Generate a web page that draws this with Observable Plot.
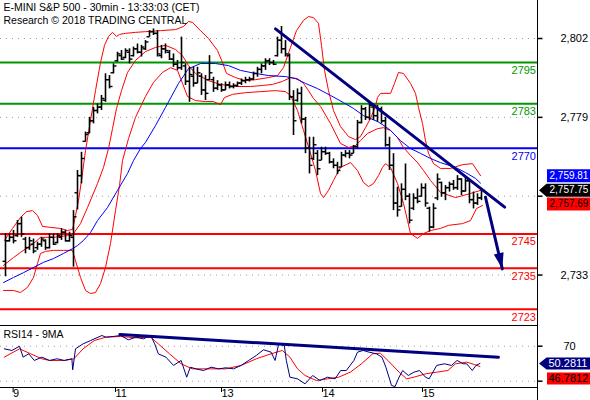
<!DOCTYPE html>
<html><head><meta charset="utf-8">
<script src="https://cdn.jsdelivr.net/npm/d3@7"></script>
<script src="https://cdn.jsdelivr.net/npm/@observablehq/plot@0.6"></script>
<style>
body{margin:0;background:#fff;}
#wrap{position:relative;width:590px;height:400px;overflow:hidden;background:#fff;font-family:'Liberation Sans',Arial,sans-serif;}
#wrap svg{display:block;}
#vline{position:absolute;left:537px;top:0;width:1px;height:400px;background:#000;z-index:5;}
</style></head><body><div id="wrap"></div>
<script>
// ---------- data ----------
const titleText = "E-MINI S&P 500 - 30min - 13:33:03 (CET)";
const sourceText = "Research \u00A9 2018 TRADING CENTRAL";
const rsiTitle = "RSI14 - 9MA";

const priceTicks = [2733, 2756, 2779, 2802];
const priceTickLabels = ["2,733", "", "2,779", "2,802"];   // 2,756 sits under the value tags
const rsiTicks = [30, 70];
const rsiTickLabels = ["", "70"];                            // 30 sits under the value tags
const dayTicks = [1.4, 27, 53.5, 78.75, 103.75];
const dayLabels = ["9", "11", "13", "14", "15"];

const levels = [2795, 2783, 2770, 2745, 2735, 2723];
const levelKinds = ["resistance", "resistance", "pivot", "support", "support", "support"];

const highs = [2745.0,2745.0,2746.0,2748.9,2749.9,2744.0,2744.0,2743.5,2742.6,2744.0,
2743.3,2745.0,2745.0,2745.0,2746.5,2746.0,2745.5,2751.8,2763.5,2768.8,
2774.7,2779.0,2781.9,2782.9,2785.4,2791.7,2791.2,2794.6,2798.0,2798.5,
2799.0,2799.0,2799.5,2800.4,2800.0,2801.4,2804.3,2804.8,2804.3,2800.0,
2800.4,2798.5,2797.5,2795.6,2802.4,2794.6,2793.6,2793.6,2793.6,2791.7,
2791.2,2797.0,2790.7,2789.7,2788.8,2789.3,2789.3,2788.8,2789.3,2790.2,
2790.7,2790.7,2792.2,2793.6,2794.6,2796.1,2796.1,2795.6,2802.4,2805.5,
2801.4,2797.5,2786.8,2787.3,2787.8,2779.0,2773.2,2773.2,2769.3,2770.3,
2770.3,2768.8,2766.9,2765.9,2768.8,2769.3,2769.3,2770.8,2778.1,2782.4,
2781.9,2783.4,2782.4,2782.5,2782.0,2779.0,2773.2,2768.4,2758.6,2759.6,
2765.4,2756.7,2756.7,2758.1,2759.6,2759.6,2752.8,2753.8,2762.5,2760.1,
2759.1,2760.1,2760.6,2762.0,2761.1,2761.5,2760.6,2757.2,2756.7,2758.1];
const lows = [2732.5,2742.6,2742.1,2744.0,2744.0,2739.2,2740.2,2739.2,2740.2,2741.1,
2740.2,2740.6,2741.6,2742.1,2743.1,2742.6,2742.6,2735.3,2752.0,2759.6,
2771.8,2774.2,2777.1,2780.0,2781.0,2783.4,2787.3,2791.7,2795.1,2795.6,
2796.1,2794.6,2796.6,2797.5,2796.6,2798.5,2802.4,2802.9,2796.6,2796.1,
2797.5,2795.6,2793.6,2792.7,2792.7,2788.3,2783.4,2787.8,2788.8,2785.4,
2783.9,2789.7,2786.3,2786.8,2786.3,2786.8,2787.3,2787.3,2787.8,2788.3,
2788.8,2789.3,2789.7,2790.7,2791.7,2792.7,2794.1,2794.1,2796.6,2797.5,
2796.6,2783.9,2773.7,2783.4,2777.1,2768.4,2762.5,2766.4,2762.0,2766.4,
2767.9,2765.4,2764.0,2762.3,2764.4,2767.2,2766.9,2768.4,2769.8,2777.1,
2778.1,2778.1,2778.1,2777.6,2777.1,2770.3,2763.5,2751.8,2749.9,2752.8,
2754.7,2747.9,2751.8,2753.8,2755.7,2752.8,2745.5,2746.5,2754.7,2755.7,
2754.7,2757.2,2757.7,2757.7,2756.2,2757.2,2753.8,2752.3,2753.3,2754.7];
const opens = [2737,2743,2744,2744.5,2748,2743.5,2741,2742,2741,2742,
2743,2741,2744,2742.5,2744,2745.5,2743,2744,2757,2762,
2772,2774.5,2778,2781,2782,2784,2790,2792,2795.5,2797,
2796.5,2798,2797,2799,2798,2799,2802.5,2804,2803.5,2797,
2799,2798,2796,2794.5,2793.5,2794,2789.5,2791,2789,2791,
2787,2790,2790,2787.5,2788.5,2787,2788.5,2788,2788.3,2789,
2789.7,2790,2790.2,2791.8,2793,2794,2795.5,2795,2797,2801.5,
2799,2797,2785,2784,2786,2778.5,2770,2767,2768.5,2766.5,
2769,2768.5,2766,2765,2764.5,2768,2768.5,2768.5,2770.5,2777.5,
2781.5,2779,2782,2779.5,2781.5,2778,2771,2765,2754,2753,
2758,2756,2752.5,2755.5,2756,2758.5,2752.5,2747,2755.5,2760,
2757,2758.5,2759.5,2758.5,2761,2757.5,2760.5,2755,2754,2755.5];
const closes = [2743,2744,2743,2748,2745,2741,2743,2740,2742,2743.5,
2741,2744,2742,2744.5,2745.5,2743,2744.5,2750,2762,2767,
2774,2778,2781,2782,2784.5,2790,2788,2794,2797.5,2796,
2798.5,2796,2799,2798,2799.5,2801,2804,2803.5,2797.5,2799,
2798.5,2796,2794.5,2793.5,2795,2789.5,2791.5,2789,2792,2787,
2786,2792,2787.5,2788.5,2787,2788.5,2788,2788.3,2789,2789.7,
2790,2790.2,2791.8,2793,2794,2795.5,2795,2794.5,2801.5,2799,
2797.5,2785,2778,2786,2778.5,2770,2765,2771,2764,2769,
2768.5,2766,2765,2763.5,2768,2768.5,2768,2770.5,2777.5,2781.5,
2779,2782.5,2779.5,2781.5,2778,2771,2765,2754,2752,2758,
2756,2749,2755.5,2754.5,2758.5,2754,2747,2752.5,2761,2757,
2758.5,2759.5,2758.5,2761,2757.5,2760.5,2755,2754,2755.5,2757.75];

const upperBand = [[-0.25,2743.1],[1.75,2746.6],[3.75,2749.8],[5.25,2751.5],[6.75,2751.8],[8,2750.4],[9.25,2747.2],[11.25,2746.9],[13.75,2746.6],[15.5,2746.0],[16.75,2746.3],[17.5,2750.4],[18.25,2754.7],[19,2760.6],[20,2769.3],[21.25,2778.1],[22.5,2786.8],[23.75,2795.0],[24.75,2800.0],[25.75,2802.6],[26.75,2803.8],[27.75,2802.6],[28.5,2803.2],[30,2803.5],[32.5,2803.8],[35,2804.0],[38.75,2804.3],[42.5,2804.6],[44.5,2805.5],[45.75,2807.0],[46.75,2806.7],[48.75,2804.3],[50.75,2802.0],[53,2798.5],[54.25,2795.0],[55.25,2791.8],[57.5,2790.6],[60,2789.7],[62.5,2790.0],[65.75,2790.6],[68,2791.2],[69.5,2793.5],[71.25,2799.4],[72.75,2804.3],[74.5,2807.3],[75.75,2808.4],[77,2808.1],[78.25,2806.4],[79,2800.0],[79.75,2792.7],[80.75,2786.8],[82,2781.0],[83.75,2776.3],[85.75,2773.4],[87.5,2772.5],[88.75,2773.4],[90,2776.0],[91.25,2778.7],[92.5,2782.2],[93,2784.8],[93.75,2786.0],[96.25,2786.0],[97.25,2788.9],[98.25,2792.1],[99.5,2791.8],[101.25,2788.9],[102.5,2786.0],[103.25,2781.9],[104.25,2777.2],[105,2772.2],[105.75,2768.5],[107,2765.5],[108.75,2764.1],[111.25,2764.1],[114.25,2765.2],[116.75,2765.5],[118.75,2762.0]];
const middleBand = [[-0.5,2735.8],[2,2738.1],[3.75,2739.6],[7,2742.2],[8.75,2744.0],[12,2744.0],[15.5,2744.5],[17,2745.1],[18.75,2748.0],[20.5,2752.7],[23,2759.7],[24.5,2764.4],[25.75,2769.9],[26.75,2775.7],[27.75,2781.6],[29,2786.8],[30.5,2792.1],[32.5,2795.6],[35,2798.2],[37.5,2799.4],[40,2800.0],[42.5,2798.8],[44.25,2797.0],[45.75,2794.1],[47.5,2791.8],[50.75,2789.7],[53.75,2788.6],[57.5,2788.0],[61.25,2788.0],[64.25,2788.3],[66.75,2788.6],[69.25,2789.5],[71.25,2790.6],[73,2790.3],[74.5,2788.9],[75.75,2786.8],[77,2784.5],[78.75,2782.2],[81.25,2777.2],[83.75,2771.4],[85.75,2770.2],[87.5,2770.8],[88.75,2772.2],[90.5,2774.3],[93,2775.7],[94.5,2776.0],[96.25,2775.2],[98,2773.1],[99.5,2770.2],[101.25,2767.9],[103,2765.8],[104.5,2763.5],[106.25,2760.6],[108.75,2757.1],[112.5,2755.6],[116.25,2756.8],[118.75,2757.69]];
const lowerBand = [[-0.5,2728.5],[2,2728.5],[3.75,2727.9],[5.5,2729.4],[7,2732.3],[8,2736.4],[8.75,2739.3],[10,2739.9],[12,2740.2],[14.5,2740.2],[16.75,2740.2],[17.5,2737.2],[18.75,2732.3],[20,2728.5],[21.25,2727.6],[22.5,2727.9],[23.75,2730.5],[25,2735.2],[26.25,2742.2],[27.5,2751.8],[28.5,2759.1],[29.25,2766.4],[30.75,2772.8],[32.5,2779.0],[35,2785.1],[37,2789.2],[39.25,2792.1],[41.25,2793.5],[43,2792.7],[44.25,2788.9],[45.5,2785.1],[47.5,2783.9],[50,2783.6],[52,2783.6],[53.75,2782.7],[54.75,2784.8],[56.75,2785.7],[60,2786.2],[63.75,2786.5],[67.5,2786.8],[70,2786.5],[71.25,2785.4],[73,2781.0],[74.5,2775.2],[76.25,2768.5],[77.5,2763.5],[78.75,2756.8],[79.5,2755.6],[80.75,2757.7],[82,2760.6],[83.75,2764.4],[86.25,2765.8],[88,2763.5],[89.5,2760.0],[90.75,2758.8],[92,2759.7],[93.25,2762.0],[94.25,2764.4],[95,2765.5],[96.25,2764.4],[98,2759.7],[99.5,2753.9],[100.5,2748.9],[101.25,2745.1],[103,2743.7],[104.5,2745.1],[106.25,2746.0],[108.75,2746.6],[110.75,2747.5],[114.25,2748.0],[116.25,2748.9],[117.75,2752.4],[119.25,2753.3]];
const movingAvg = [[-0.5,2730.8],[2,2732.3],[4.5,2733.7],[7,2735.2],[9.5,2736.7],[12,2737.8],[14.5,2739.3],[16.75,2740.7],[18,2741.6],[19.5,2743.1],[21.25,2745.4],[23,2748.9],[25.5,2752.7],[28,2757.7],[30.5,2762.6],[32,2766.4],[33.75,2769.9],[35,2771.7],[37.5,2776.6],[40,2781.9],[43.25,2788.9],[45.75,2793.2],[48.75,2794.7],[52.5,2794.7],[55.75,2794.1],[58.75,2792.7],[62.5,2791.8],[65.75,2791.2],[70,2790.9],[72.5,2790.3],[75,2788.9],[78,2787.4],[81.25,2785.4],[84.5,2783.3],[87,2781.6],[89.5,2779.5],[93,2777.8],[95,2776.3],[96.25,2775.2],[98.75,2772.2],[101.25,2769.9],[103.75,2768.5],[106.25,2767.0],[108.75,2765.8],[112.5,2764.4],[115,2762.9],[117.5,2761.2],[118.75,2759.81]];

const rsi14 = [[-0.3,67.0],[1.6,65.1],[3.5,70.0],[4.4,57.5],[5.8,61.3],[7.2,53.7],[9.1,57.5],[11.0,53.7],[12.9,55.6],[14.7,53.7],[16.6,55.6],[16.8,43.0],[17.5,67.0],[19.4,72.7],[21.3,76.5],[24.1,82.2],[25.1,80.3],[26.9,81.1],[28.8,82.2],[30.7,77.3],[32.6,80.3],[34.5,78.4],[36.3,82.2],[37.3,72.7],[38.2,61.3],[40.1,57.5],[42.0,48.0],[43.9,53.7],[45.3,34.6],[46.2,46.0],[47.6,44.1],[49.5,42.2],[51.4,46.0],[53.3,44.1],[55.1,45.3],[57.0,44.1],[58.9,48.0],[60.8,53.7],[62.7,59.4],[64.5,65.9],[66.4,63.2],[67.4,53.7],[68.3,72.7],[69.7,70.8],[70.2,53.7],[71.1,34.6],[73.0,32.7],[74.9,27.0],[76.8,36.5],[78.6,30.8],[80.5,34.6],[82.4,32.7],[83.8,42.2],[85.2,42.2],[87.1,53.7],[88.0,63.2],[89.4,65.1],[90.9,63.2],[92.7,61.3],[94.1,57.5],[95.1,46.0],[96.5,25.1],[97.4,23.9],[98.4,34.6],[99.3,42.2],[100.7,36.5],[102.1,40.3],[103.5,42.2],[105.0,34.6],[105.9,32.7],[107.8,48.0],[109.7,49.9],[111.5,48.0],[112.9,53.7],[114.4,49.9],[115.3,49.9],[116.7,42.2],[117.6,48.0],[118.6,50.2811]];
const rsiMA9 = [[-0.3,57.5],[3.5,67.0],[6.3,61.3],[9.1,55.6],[11.0,53.7],[14.7,53.7],[17.1,55.6],[19.4,67.0],[22.2,76.5],[25.1,80.3],[28.8,81.1],[32.6,79.6],[36.3,80.3],[38.2,72.7],[41.0,61.3],[43.9,49.9],[46.7,44.1],[51.4,44.1],[55.1,44.1],[58.9,48.0],[62.7,55.6],[66.4,61.3],[69.2,65.1],[71.1,57.5],[73.0,44.1],[74.9,36.5],[77.7,30.8],[80.5,32.7],[83.3,34.6],[86.2,40.3],[89.0,49.9],[91.8,61.3],[93.7,62.0],[95.6,53.7],[98.4,40.3],[100.3,32.7],[102.1,34.6],[105.0,38.4],[107.8,40.3],[110.6,42.2],[112.5,49.9],[115.3,51.8],[117.2,49.1],[118.6,46.7812]];

const priceTrend = [[67.5, 2804.8], [124.8, 2752.8]];
const projection = [[120, 2755.7], [124.2, 2734.8]];
const rsiTrend = [[28.6, 83.4], [123.25, 57.4]];

// ---------- helpers ----------
const kindColor = {resistance: "#009600", pivot: "#0000ff", support: "#ff0000"};
const font = "'Liberation Sans', Arial, sans-serif";
const X = d => d[0], Y = d => d[1];
const lastOf = a => a[a.length - 1];
const fmtPrice = d3.format(",.2f");
const fmtRsi = d3.format(".4f");
const xDomain = [-1.25, 133];

const bars = highs.map((h, i) => ({i, high: h, low: lows[i], open: opens[i], close: closes[i]}));
const levelRows = levels.map((v, k) => ({v, kind: levelKinds[k]}));
const dayLabelOf = new Map(dayTicks.map((t, k) => [t, dayLabels[k]]));
const priceTickRows = priceTicks.map((v, k) => ({v, label: priceTickLabels[k]})).filter(d => d.label);
const rsiTickRows = rsiTicks.map((v, k) => ({v, label: rsiTickLabels[k]})).filter(d => d.label);

const tickSym = side => ({draw(c) { c.moveTo(side < 0 ? -3 : 0, 0); c.lineTo(side < 0 ? 0 : 3, 0); }});
const axisTickSym = {draw(c) { c.moveTo(0, 0); c.lineTo(5, 0); }};
const tagSym = (arrow, h) => ({draw(c) {
  const k = h / 2;
  if (arrow) { c.moveTo(1.5, 0); c.lineTo(9, -k); c.lineTo(62, -k); c.lineTo(62, k); c.lineTo(9, k); c.closePath(); }
  else { c.rect(9.5, -k, 53, h); }
}});
const headSym = {draw(c) { c.moveTo(0, 0); c.lineTo(-5, -16); c.lineTo(5, -16); c.closePath(); }};

function valueTag(v, {fill, color, arrow, dy, fmt, h = 13, dx = 12, size = 10}) {
  return [
    Plot.dot([v], {y: d => d, frameAnchor: "right", symbol: tagSym(arrow, h), fill, stroke: "none", dy}),
    Plot.text([v], {y: d => d, text: d => fmt(d), frameAnchor: "right", textAnchor: "start", dx, dy, fill: color, fontSize: size})
  ];
}
function rightAxis(ticks, labelRows, pad) {
  return [
    Plot.dot(ticks, {y: d => d, frameAnchor: "right", symbol: axisTickSym, stroke: "#000", fill: "none"}),
    Plot.text(labelRows, {y: "v", text: "label", frameAnchor: "right", textAnchor: "start", dx: pad, fill: "#000", fontSize: 11})
  ];
}

const baseStyle = {fontFamily: font, fontSize: "11px", background: "transparent", overflow: "visible"};

// ---------- main price panel ----------
const main = Plot.plot({
  width: 590, height: 326,
  marginLeft: 0, marginRight: 53, marginTop: 0, marginBottom: 1,
  style: baseStyle,
  x: {domain: xDomain, axis: null},
  y: {domain: [2718.28, 2813.09], axis: null},
  color: {type: "identity"},
  marks: [
    Plot.ruleY(priceTicks, {stroke: "#9a9a9a", strokeDasharray: "1,5"}),
    Plot.ruleY(levelRows, {y: "v", stroke: d => kindColor[d.kind], strokeWidth: 2}),
    Plot.line(upperBand, {x: X, y: Y, stroke: "#ff0000", strokeWidth: 1}),
    Plot.line(middleBand, {x: X, y: Y, stroke: "#ff0000", strokeWidth: 1}),
    Plot.line(lowerBand, {x: X, y: Y, stroke: "#ff0000", strokeWidth: 1}),
    Plot.line(movingAvg, {x: X, y: Y, stroke: "#0000ff", strokeWidth: 1}),
    Plot.ruleX(bars, {x: "i", y1: "low", y2: "high", stroke: "#000", strokeWidth: 1.6}),
    Plot.dot(bars, {x: "i", y: "open", symbol: tickSym(-1), stroke: "#000", fill: "none", strokeWidth: 1.4}),
    Plot.dot(bars, {x: "i", y: "close", symbol: tickSym(1), stroke: "#000", fill: "none", strokeWidth: 1.4}),
    Plot.line(priceTrend, {x: X, y: Y, stroke: "#000080", strokeWidth: 3}),
    Plot.line(projection, {x: X, y: Y, stroke: "#000080", strokeWidth: 3}),
    Plot.dot([lastOf(projection)], {x: X, y: Y, symbol: headSym, fill: "#000080", stroke: "none", rotate: -13}),
    Plot.text(levelRows, {y: "v", text: d => String(d.v), fill: d => kindColor[d.kind], frameAnchor: "right", textAnchor: "end", dx: -1.5, dy: 8, fontSize: 11}),
    Plot.text([titleText], {text: d => d, frameAnchor: "top-left", textAnchor: "start", lineAnchor: "top", dx: 3, dy: 3.5, fontSize: 10.5, fill: "#000"}),
    Plot.text([sourceText], {text: d => d, frameAnchor: "top-left", textAnchor: "start", lineAnchor: "top", dx: 3, dy: 16, fontSize: 10.5, fill: "#000"}),
    Plot.frame({anchor: "bottom", stroke: "#000"}),
    ...rightAxis(priceTicks, priceTickRows, 23),
    ...valueTag(lastOf(movingAvg)[1], {fill: "#0000ff", color: "#fff", arrow: false, dy: -7.5, fmt: fmtPrice}),
    ...valueTag(lastOf(closes), {fill: "#000", color: "#fff", arrow: true, dy: 0, fmt: fmtPrice}),
    ...valueTag(lastOf(middleBand)[1], {fill: "#ff0000", color: "#000", arrow: false, dy: 13.5, fmt: fmtPrice})
  ]
});

// ---------- RSI panel ----------
const rsiPanel = Plot.plot({
  width: 590, height: 74,
  marginLeft: 0, marginRight: 53, marginTop: 0, marginBottom: 13,
  style: baseStyle,
  x: {domain: xDomain},
  y: {domain: [22.8, 92.5], axis: null},
  marks: [
    Plot.ruleY(rsiTicks, {stroke: "#9a9a9a", strokeDasharray: "1,5"}),
    Plot.line(rsiMA9, {x: X, y: Y, stroke: "#ff0000", strokeWidth: 1}),
    Plot.line(rsi14, {x: X, y: Y, stroke: "#000080", strokeWidth: 1}),
    Plot.line(rsiTrend, {x: X, y: Y, stroke: "#000080", strokeWidth: 3}),
    Plot.text([rsiTitle], {text: d => d, frameAnchor: "top-left", textAnchor: "start", lineAnchor: "top", dx: 3, dy: 4, fontSize: 10.5, fill: "#000"}),
    Plot.frame({anchor: "bottom", stroke: "#000"}),
    Plot.axisX(dayTicks, {tickFormat: d => dayLabelOf.get(d), tickSize: 5, tickPadding: -3, textAnchor: "start", dx: 2, label: null, fontSize: 11}),
    ...rightAxis(rsiTicks, rsiTickRows, 26),
    ...valueTag(lastOf(rsi14)[1], {fill: "#000080", color: "#fff", arrow: true, dy: 0, fmt: fmtRsi, h: 12, dx: 11, size: 11}),
    ...valueTag(lastOf(rsiMA9)[1], {fill: "#ff0000", color: "#000", arrow: false, dy: 12, fmt: fmtRsi, h: 12, dx: 11, size: 11})
  ]
});

const wrap = document.getElementById("wrap");
wrap.appendChild(main);
wrap.appendChild(rsiPanel);
const vline = document.createElement("div");
vline.id = "vline";
wrap.appendChild(vline);
</script></body></html>
